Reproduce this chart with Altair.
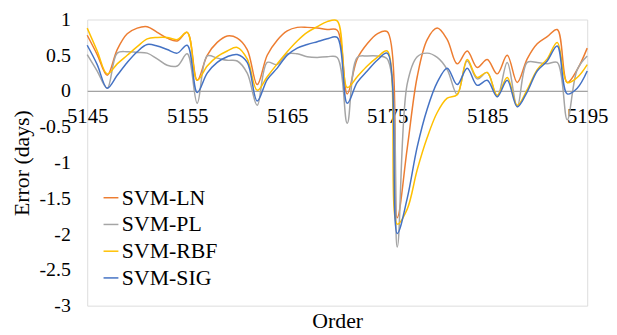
import altair as alt
import pandas as pd

orders = list(range(5145, 5196))

svm_ln = [0.78, 0.51, 0.22, 0.58, 0.80, 0.88, 0.90, 0.82, 0.74, 0.70, 0.82,
          0.15, 0.50, 0.68, 0.77, 0.74, 0.58, 0.09, 0.50, 0.71, 0.84, 0.89,
          0.89, 0.88, 0.86, 0.85, -0.04, 0.45, 0.66, 0.80, 0.83, -1.77, -0.80,
          0.20, 0.72, 0.88, 0.72, 0.38, 0.56, 0.33, 0.44, 0.24, 0.50, 0.12,
          0.45, 0.66, 0.76, 0.86, 0.12, 0.30, 0.60]
svm_pl = [0.51, 0.28, 0.04, 0.53, 0.55, 0.54, 0.53, 0.45, 0.36, 0.35, 0.52,
          -0.17, 0.49, 0.46, 0.43, 0.42, 0.25, -0.20, 0.40, 0.37, 0.52, 0.52,
          0.48, 0.47, 0.48, 0.47, -0.45, 0.47, 0.49, 0.49, 0.45, -2.18, 0.10,
          0.48, 0.53, 0.47, 0.30, -0.05, 0.42, 0.17, 0.26, -0.08, 0.40, -0.22,
          0.40, 0.40, 0.38, 0.40, -0.40, 0.30, 0.49]
svm_rbf = [0.88, 0.56, 0.24, 0.38, 0.50, 0.62, 0.73, 0.75, 0.75, 0.72, 0.82,
           0.15, 0.35, 0.48, 0.56, 0.61, 0.45, 0.01, 0.20, 0.38, 0.55, 0.70,
           0.82, 0.90, 0.97, 0.98, 0.05, 0.20, 0.35, 0.47, 0.56, -1.86, -1.65,
           -1.10, -0.65, -0.30, -0.10, -0.05, 0.44, 0.19, 0.26, -0.06, 0.19,
           -0.20, 0.02, 0.30, 0.45, 0.68, 0.12, 0.19, 0.37]
svm_sig = [0.64, 0.37, 0.04, 0.22, 0.40, 0.55, 0.65, 0.63, 0.58, 0.53, 0.64,
           -0.02, 0.25, 0.40, 0.48, 0.51, 0.40, -0.14, 0.16, 0.32, 0.50, 0.60,
           0.65, 0.69, 0.73, 0.75, -0.17, 0.12, 0.28, 0.43, 0.53, -1.99, -1.50,
           -0.78, -0.25, 0.12, 0.32, 0.09, 0.32, 0.08, 0.15, -0.08, 0.15,
           -0.22, -0.01, 0.28, 0.42, 0.63, -0.04, 0.04, 0.28]

series_names = ["SVM-LN", "SVM-PL", "SVM-RBF", "SVM-SIG"]
series_colors = ["#ED7D31", "#A5A5A5", "#FFC000", "#4472C4"]
x_ticks = [5145, 5155, 5165, 5175, 5185, 5195]
y_ticks = [1, 0.5, 0, -0.5, -1, -1.5, -2, -2.5, -3]

rows = []
for name, vals in zip(series_names, [svm_ln, svm_pl, svm_rbf, svm_sig]):
    for o, v in zip(orders, vals):
        rows.append({"Order": o, "Error": v, "Model": name})
df = pd.DataFrame(rows)

FONT = "Liberation Serif"

chart = alt.Chart(df).mark_line(
    interpolate="catmull-rom", strokeWidth=1.5
).encode(
    x=alt.X(
        "Order:Q",
        scale=alt.Scale(domain=[5145, 5195], nice=False, zero=False),
        axis=alt.Axis(
            values=x_ticks, title="Order", offset=-217, grid=False,
            ticks=False, labelPadding=15, labelFontSize=21, labelFont=FONT,
            labelColor="black", domainColor="#898989", domainWidth=1,
            labelExpr="datum.value + ''",
            titleFont=FONT, titleFontSize=22, titleFontWeight="normal",
            titleColor="black", titleY=222, labelFlush=False,
            labelOverlap=False,
        ),
    ),
    y=alt.Y(
        "Error:Q",
        scale=alt.Scale(domain=[-3, 1], nice=False),
        axis=alt.Axis(
            values=y_ticks, title="Error (days)", grid=False, ticks=False,
            domain=False, labelPadding=17, labelFontSize=20, labelFont=FONT,
            labelColor="black", labelExpr="datum.value + ''",
            titleFont=FONT, titleFontSize=22,
            titleFontWeight="normal", titleColor="black", titleX=-66,
            titleBaseline="middle", labelOverlap=False,
        ),
    ),
    color=alt.Color(
        "Model:N",
        scale=alt.Scale(domain=series_names, range=series_colors),
        legend=alt.Legend(
            title=None, orient="none", legendX=13, legendY=169,
            symbolType="stroke", symbolSize=225, symbolStrokeWidth=1.5,
            labelFont=FONT, labelFontSize=22, labelColor="black",
            labelOffset=0, rowPadding=5, padding=0,
        ),
    ),
).properties(
    width=505,
    height=289,
    autosize=alt.AutoSizeParams(type="none"),
    padding={"left": 80, "top": 10, "right": 22, "bottom": 26},
).configure_view(
    stroke="#7F7F7F", strokeWidth=1
).configure(background="white")

chart.save("out.html", embed_options={"renderer": "svg", "actions": False})
